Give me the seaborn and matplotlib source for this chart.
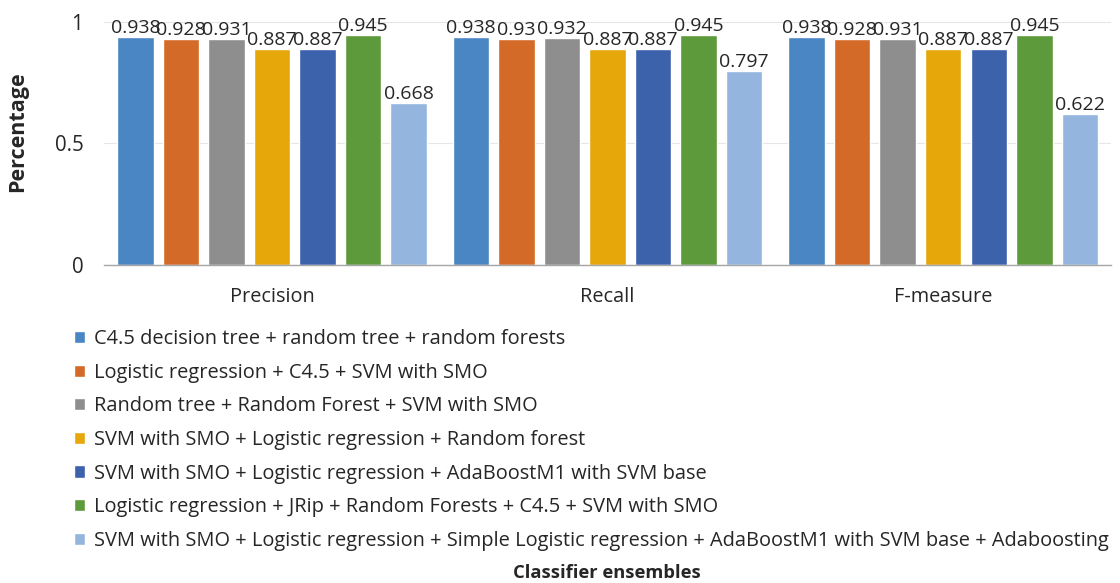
import matplotlib
matplotlib.use("Agg")
import matplotlib.pyplot as plt
import seaborn as sns
import pandas as pd

metrics = ["Precision", "Recall", "F-measure"]
ensembles = [
    "C4.5 decision tree + random tree + random forests",
    "Logistic regression + C4.5 + SVM with SMO",
    "Random tree + Random Forest + SVM with SMO",
    "SVM with SMO + Logistic regression + Random forest",
    "SVM with SMO + Logistic regression + AdaBoostM1 with SVM base",
    "Logistic regression + JRip + Random Forests + C4.5 + SVM with SMO",
    "SVM with SMO + Logistic regression + Simple Logistic regression + AdaBoostM1 with SVM base + Adaboosting",
]
precision = [0.938, 0.928, 0.931, 0.887, 0.887, 0.945, 0.668]
recall = [0.938, 0.93, 0.932, 0.887, 0.887, 0.945, 0.797]
f_measure = [0.938, 0.928, 0.931, 0.887, 0.887, 0.945, 0.622]
colors = ["#4A86C3", "#D46A28", "#8E8E8E", "#E5A70A", "#3D62AC", "#5D9A3B", "#94B6DE"]

rows = []
for metric, vals in zip(metrics, [precision, recall, f_measure]):
    for ens, v in zip(ensembles, vals):
        rows.append({"metric": metric, "ensemble": ens, "value": v})
df = pd.DataFrame(rows)

sns.set_style("white")
plt.rcParams["font.family"] = ["Open Sans", "DejaVu Sans"]
text_color = "#262626"

fig = plt.figure(figsize=(11.2, 5.83), dpi=100)
ax = fig.add_axes([0.093, 0.5455, 0.899, 0.417])

sns.barplot(data=df, x="metric", y="value", hue="ensemble", order=metrics,
            hue_order=ensembles, palette=colors, width=0.95, gap=0.2,
            saturation=1, legend=True, ax=ax, zorder=2)

for cont in ax.containers:
    ax.bar_label(cont, labels=[f"{v:g}" for v in cont.datavalues], padding=0,
                 fontsize=14, color=text_color, clip_on=False)

ax.set_ylim(0, 1)
ax.set_xlim(-0.5, 2.5)
ax.set_yticks([0, 0.5, 1])
ax.set_yticklabels(["0", "0.5", "1"])
ax.yaxis.grid(True, color="#E6E6E6", linewidth=0.8, zorder=0)
ax.set_axisbelow(True)
for side in ["left", "right", "top"]:
    ax.spines[side].set_visible(False)
ax.spines["bottom"].set_color("#A6A6A6")
ax.spines["bottom"].set_linewidth(1.0)
ax.tick_params(axis="x", length=0, pad=16, labelsize=14.3, labelcolor=text_color)
ax.tick_params(axis="y", length=0, pad=15, labelsize=14.8, labelcolor=text_color)
ax.set_xlabel("")
ax.set_ylabel("Percentage", fontsize=15.5, fontweight="bold", color=text_color)
ax.yaxis.set_label_coords(-0.0755, 0.547)

handles, labels = ax.get_legend_handles_labels()
ax.get_legend().remove()
fig.legend(handles, labels, loc="upper left", bbox_to_anchor=(0.066, 0.4356),
           frameon=False, fontsize=14.45, handlelength=0.55, handleheight=0.55,
           handletextpad=0.45, labelspacing=0.68, borderaxespad=0, borderpad=0,
           labelcolor=text_color)

fig.text(0.542, 0.001, "Classifier ensembles", ha="center", va="bottom",
         fontsize=13.2, fontweight="bold", color=text_color)

fig.savefig("out.png", dpi=100)
